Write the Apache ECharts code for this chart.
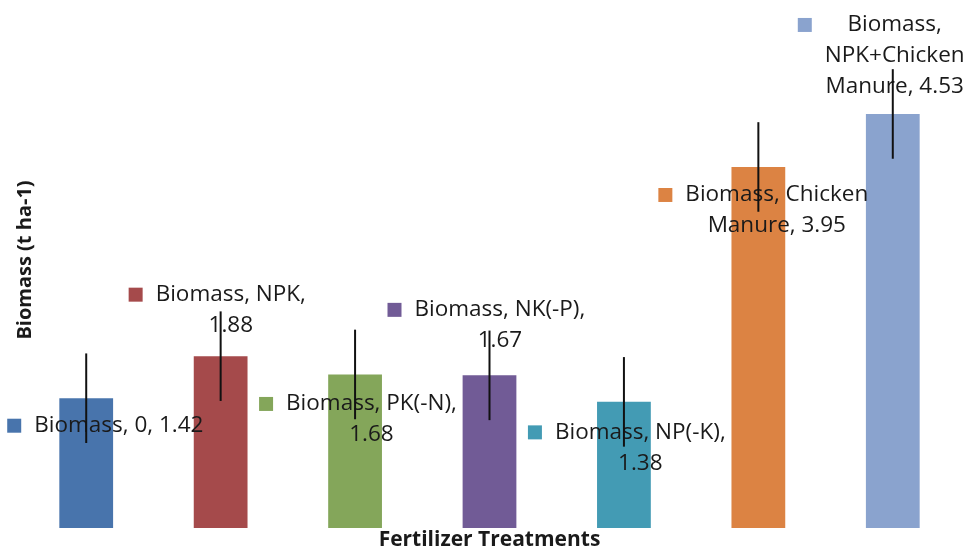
<!DOCTYPE html>
<html><head><meta charset="utf-8">
<script src="https://cdn.jsdelivr.net/npm/echarts@6/dist/echarts.min.js"></script>
<style>html,body{margin:0;padding:0;background:#fff}#c{width:968px;height:550px}</style>
</head><body><div id="c"></div>
<script>
// ---- data ----
const seriesName = 'Biomass';
const categories = ['0', 'NPK', 'PK(-N)', 'NK(-P)', 'NP(-K)', 'Chicken Manure', 'NPK+Chicken Manure'];
const biomass = [1.42, 1.88, 1.68, 1.67, 1.38, 3.95, 4.53];
const errors = [0.49, 0.49, 0.49, 0.49, 0.49, 0.49, 0.49];
const yTitle = 'Biomass (t ha-1)';
const xTitle = 'Fertilizer Treatments';

// ---- style ----
const colors = ['#4874AC', '#A54A4B', '#84A65A', '#715B96', '#439BB4', '#DC8343', '#8AA3CE'];
const labelWords = [[3], [2, 1], [2, 1], [2, 1], [2, 1], [2, 2], [1, 1, 2]];
const labelOffsets = [[-79, 12], [-92, -77], [-96, 14], [-102, -81], [-96, 15], [-100, 12.5], [-95, -104.5]];
const FONT = '"Open Sans", "Noto Sans", sans-serif';
const TXT = '#1a1a1a';

function makeLabel(i) {
  return {
    show: true,
    position: 'top',
    distance: 0,
    offset: labelOffsets[i],
    align: 'left',
    verticalAlign: 'top',
    formatter: function (p) {
      const words = (p.seriesName + ', ' + p.name + ', ' + Number(p.value).toFixed(2)).split(' ');
      const out = [];
      let k = 0;
      labelWords[p.dataIndex].forEach(function (n, li) {
        const line = words.slice(k, k + n).join(' ');
        k += n;
        out.push((li === 0 ? '{k|}' : '{s|}') + '{g|}{t|' + line + '}');
      });
      return out.join('\n');
    },
    rich: {
      k: { width: 14, height: 14, backgroundColor: colors[i], lineHeight: 31 },
      s: { width: 14, height: 14, lineHeight: 31 },
      g: { width: 13, lineHeight: 31 },
      t: { align: 'center', fontSize: 22.5, fontFamily: FONT, color: TXT, lineHeight: 31 }
    }
  };
}

const chart = echarts.init(document.getElementById('c'), null, { renderer: 'canvas' });
chart.setOption({
  animation: false,
  backgroundColor: '#fff',
  grid: { left: 19, right: 8, top: 71, bottom: 22, containLabel: false, outerBoundsMode: 'none' },
  xAxis: {
    type: 'category',
    data: categories,
    axisLine: { show: false },
    axisTick: { show: false },
    axisLabel: { show: false },
    splitLine: { show: false },
    name: xTitle,
    nameLocation: 'middle',
    nameGap: 2,
    nameTextStyle: { fontFamily: FONT, fontWeight: 'bold', fontSize: 21, color: TXT }
  },
  yAxis: {
    type: 'value',
    min: 0,
    max: 5,
    axisLine: { show: false },
    axisTick: { show: false },
    axisLabel: { show: false },
    splitLine: { show: false },
    name: yTitle,
    nameLocation: 'middle',
    nameGap: -16,
    nameTextStyle: { fontFamily: FONT, fontWeight: 'bold', fontSize: 20, color: TXT, padding: [0, 0, 0, 79] }
  },
  series: [
    {
      name: seriesName,
      type: 'bar',
      barWidth: '40%',
      z: 2,
      data: biomass.map(function (v, i) {
        return { value: v, itemStyle: { color: colors[i] }, label: makeLabel(i) };
      })
    },
    {
      name: 'error',
      type: 'custom',
      z: 5,
      data: biomass.map(function (v, i) { return [i, v, errors[i]]; }),
      renderItem: function (params, api) {
        const x = api.value(0), v = api.value(1), e = api.value(2);
        const p1 = api.coord([x, v + e]);
        const p2 = api.coord([x, v - e]);
        return {
          type: 'line',
          shape: { x1: p1[0], y1: p1[1], x2: p2[0], y2: p2[1] },
          style: { stroke: '#111', lineWidth: 2 }
        };
      }
    }
  ]
});
</script>
</body></html>
